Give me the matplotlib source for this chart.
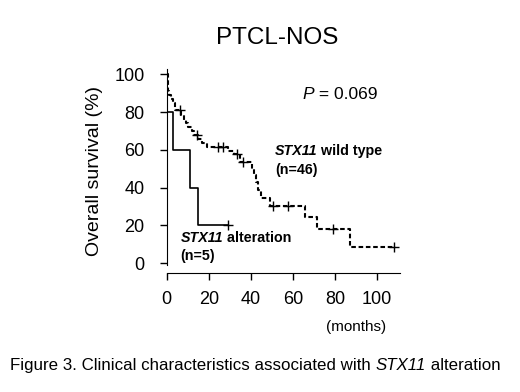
import matplotlib
matplotlib.use("Agg")
import matplotlib.pyplot as plt
import numpy as np

plt.rcParams['font.family'] = ['Liberation Sans', 'DejaVu Sans']

# Kaplan-Meier steps (months, % surviving)
wt_time = [0, 0.5, 1, 2, 3, 4, 7, 8, 9, 10, 12, 13, 15, 17, 19, 29, 32, 35,
           40.5, 41.5, 42.5, 43.5, 45, 49.2, 65.9, 71.4, 87, 108.2]
wt_surv = [100, 91, 89, 87, 85, 81, 78.5, 76, 74, 72, 70, 68, 65.5, 63.5, 61.5,
           59.5, 58, 53.4, 50, 46.5, 43, 39, 34.4, 30.3, 24.7, 18, 8.8, 8.8]
wt_cens_t = [6.3, 14.3, 24.6, 27, 33.3, 36.2, 50.5, 57.9, 79.3, 108.2]
wt_cens_s = [81, 68, 61.5, 61.5, 58, 53.4, 30.3, 30.3, 18, 8.8]

alt_time = [0, 0.3, 3, 11, 15, 29.3]
alt_surv = [100, 80, 60, 40, 20, 20]
alt_cens_t = [29.3]
alt_cens_s = [20]

yticks = [0, 20, 40, 60, 80, 100]
xticks = [0, 20, 40, 60, 80, 100]

fig = plt.figure(figsize=(5.2, 3.92), dpi=100)
ax = fig.add_axes([0.3206, 0.3028, 0.4487, 0.5222])

ax.step(wt_time, wt_surv, where='post', color='black', lw=1.5,
        linestyle=(0, (2.2, 1.3)))
ax.plot(wt_cens_t, wt_cens_s, '+', color='black', ms=7, mew=1)
ax.step(alt_time, alt_surv, where='post', color='black', lw=1.2)
ax.plot(alt_cens_t, alt_cens_s, '+', color='black', ms=7, mew=1)

ax.set_xlim(0, 111)
ax.set_ylim(-5.3, 103)
ax.spines['top'].set_visible(False)
ax.spines['right'].set_visible(False)
ax.spines['left'].set_bounds(-1, 103)
ax.set_xticks(xticks)
ax.set_yticks(yticks)
ax.tick_params(axis='both', direction='out', length=5, width=1, labelsize=13)
ax.tick_params(axis='x', pad=8)
ax.tick_params(axis='y', pad=11)
ax.set_ylabel("Overall survival (%)", fontsize=14, labelpad=8)


def rich(x, y, parts, size):
    # parts: list of (text, style, weight) drawn one after another
    t = ax.text(x, y, parts[0][0], fontsize=size, style=parts[0][1],
                weight=parts[0][2], ha='left', va='bottom')
    for s, st, w in parts[1:]:
        t = ax.annotate(s, xy=(1, 0), xycoords=t, ha='left', va='bottom',
                        fontsize=size, style=st, weight=w,
                        annotation_clip=False)
    return t


fig.text(277 / 520, 1 - 38 / 392, "PTCL-NOS", ha='center', va='center',
         fontsize=17.5)
rich(64.5, 85.5, [("P", 'italic', 'normal'), (" = 0.069", 'normal', 'normal')], 12.5)
rich(51.5, 55.5, [("STX11", 'italic', 'bold'), (" wild type", 'normal', 'bold')], 10.3)
ax.text(51.5, 45.5, "(n=46)", fontsize=10.3, weight='bold', ha='left', va='bottom')
rich(6.5, 9.5, [("STX11", 'italic', 'bold'), (" alteration", 'normal', 'bold')], 10.3)
ax.text(6.5, 0, "(n=5)", fontsize=10.3, weight='bold', ha='left', va='bottom')

fig.text(356 / 520, 1 - 327 / 392, "(months)", ha='center', va='center',
         fontsize=11)

cap = fig.text(10 / 520, 1 - 373 / 392,
               "Figure 3. Clinical characteristics associated with ",
               fontsize=12.2, ha='left', va='bottom')
c2 = ax.annotate("STX11", xy=(1, 0), xycoords=cap, ha='left', va='bottom',
                 fontsize=12.2, style='italic', annotation_clip=False)
ax.annotate(" alteration", xy=(1, 0), xycoords=c2, ha='left', va='bottom',
            fontsize=12.2, annotation_clip=False)

fig.savefig("out.png", dpi=100)
